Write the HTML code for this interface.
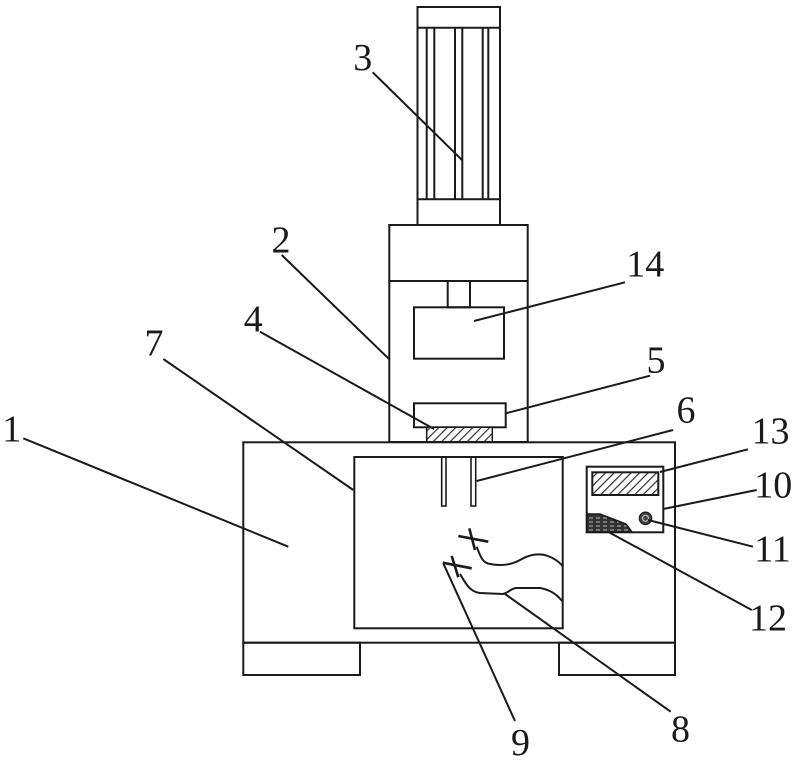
<!DOCTYPE html>
<html>
<head>
<meta charset="utf-8">
<style>
  html,body{margin:0;padding:0;background:#fff;}
  svg{display:block;}
  text{font-family:"Liberation Serif","Noto Serif CJK SC",serif;font-size:38px;fill:#1a1a1a;text-anchor:middle;}
</style>
</head>
<body>
<svg width="800" height="762" viewBox="0 0 800 762" xmlns="http://www.w3.org/2000/svg">
  <defs>
    <pattern id="hatch" patternUnits="userSpaceOnUse" width="6" height="6" patternTransform="rotate(45)">
      <rect width="6" height="6" fill="#fff"/>
      <line x1="0" y1="0" x2="0" y2="6" stroke="#333" stroke-width="2.4"/>
    </pattern>
    <pattern id="brick" patternUnits="userSpaceOnUse" width="7" height="4">
      <rect width="7" height="4" fill="#333"/>
      <line x1="1" y1="2" x2="5" y2="2" stroke="#bbb" stroke-width="1"/>
    </pattern>
  </defs>

  <g fill="none" stroke="#1a1a1a" stroke-width="2">
    <!-- motor 3 -->
    <rect x="417.5" y="7" width="82.5" height="218"/>
    <line x1="417.5" y1="27.7" x2="500" y2="27.7"/>
    <line x1="417.5" y1="199.3" x2="500" y2="199.3"/>
    <line x1="426.7" y1="27.7" x2="426.7" y2="199.3"/>
    <line x1="434.3" y1="27.7" x2="434.3" y2="199.3"/>
    <line x1="455" y1="27.7" x2="455" y2="199.3"/>
    <line x1="462.3" y1="27.7" x2="462.3" y2="199.3"/>
    <line x1="482.7" y1="27.7" x2="482.7" y2="199.3"/>
    <line x1="488.3" y1="27.7" x2="488.3" y2="199.3"/>

    <!-- housing 2 -->
    <rect x="389.3" y="225" width="138.4" height="217"/>
    <line x1="389.3" y1="281" x2="527.7" y2="281"/>
    <rect x="447.7" y="281" width="22.3" height="26.3"/>
    <rect x="414" y="307.3" width="90" height="51.4"/>
    <rect x="414" y="403.3" width="91.7" height="24"/>
  </g>
  <rect x="426.7" y="427.3" width="65.6" height="14.4" fill="url(#hatch)" stroke="#1a1a1a" stroke-width="1.5"/>

  <g fill="none" stroke="#1a1a1a" stroke-width="2">
    <!-- base 1 -->
    <rect x="243.3" y="442.3" width="431.7" height="200.4"/>
    <rect x="243.3" y="642.7" width="116.7" height="32.3"/>
    <rect x="559" y="642.7" width="116" height="32.3"/>
    <!-- inner box 7 -->
    <rect x="354.3" y="457" width="208.4" height="171.3"/>
    <!-- rods 6 -->
    <rect x="441.7" y="457" width="4.3" height="49" stroke-width="1.6"/>
    <rect x="471" y="457" width="4.7" height="49" stroke-width="1.6"/>
    <!-- control panel 10 -->
    <rect x="586.7" y="466.7" width="76.6" height="65.6"/>
  </g>
  <rect x="592.3" y="472.3" width="66" height="22.7" fill="url(#hatch)" stroke="#1a1a1a" stroke-width="2"/>
  <path d="M587,514 L600,514 L626,524 L632,532 L587,532 Z" fill="url(#brick)" stroke="#1a1a1a" stroke-width="1.5"/>
  <circle cx="645.5" cy="518.3" r="6.2" fill="#444" stroke="#1a1a1a" stroke-width="1.2"/>
  <circle cx="645.5" cy="518.3" r="3" fill="none" stroke="#bbb" stroke-width="1.2"/>

  <!-- wires and probes -->
  <g fill="none" stroke="#1a1a1a" stroke-width="2">
    <line x1="458.3" y1="536" x2="488.3" y2="541.7" stroke-width="2.6"/>
    <line x1="469.3" y1="528.3" x2="475" y2="550" stroke-width="2.6"/>
    <line x1="442.7" y1="562.7" x2="471.7" y2="568.3" stroke-width="2.6"/>
    <line x1="451.7" y1="556" x2="458.3" y2="577.3" stroke-width="2.6"/>
    <path d="M476.7,546.7 C480,555 482,563 490,564 C500,566 511,565 520,560 C530,554 540,553 548,556 C556,559 560,563 562.7,566"/>
    <path d="M460,574 C466,584 470,592 480,593 L503,594 C508,593 510,589 516,588 L540,588 C552,590 558,596 562.7,601.7"/>
  </g>

  <!-- leader lines -->
  <g stroke="#1a1a1a" stroke-width="2" fill="none">
    <line x1="372.7" y1="72.3" x2="462.7" y2="160.7"/>
    <line x1="281.7" y1="255" x2="389.3" y2="359.3"/>
    <line x1="474" y1="321" x2="625" y2="282.3"/>
    <line x1="260" y1="331.7" x2="434" y2="429"/>
    <line x1="163.3" y1="359" x2="353.3" y2="490"/>
    <line x1="506" y1="413.3" x2="650" y2="375.7"/>
    <line x1="476.7" y1="481" x2="673" y2="430"/>
    <line x1="23.3" y1="438.3" x2="288.3" y2="546.7"/>
    <line x1="660" y1="472" x2="748" y2="449.3"/>
    <line x1="663.3" y1="509" x2="756.7" y2="490"/>
    <line x1="648" y1="520" x2="753" y2="546.7"/>
    <line x1="608" y1="531.7" x2="751.7" y2="610"/>
    <line x1="443.3" y1="563.3" x2="515" y2="721"/>
    <line x1="505" y1="594" x2="670.7" y2="711.7"/>
  </g>

  <!-- labels -->
  <text x="362.8" y="70">3</text>
  <text x="281" y="252.7">2</text>
  <text x="645.3" y="276.7">14</text>
  <text x="253.3" y="331.7">4</text>
  <text x="154" y="355.7">7</text>
  <text x="656" y="372.7">5</text>
  <text x="686" y="422.7">6</text>
  <text x="11.7" y="441.7">1</text>
  <text x="770.5" y="443.3">13</text>
  <text x="773.3" y="497.7">10</text>
  <text x="772.5" y="561.7">11</text>
  <text x="768" y="630.7">12</text>
  <text x="520.5" y="755">9</text>
  <text x="680.5" y="741.7">8</text>
</svg>
</body>
</html>
